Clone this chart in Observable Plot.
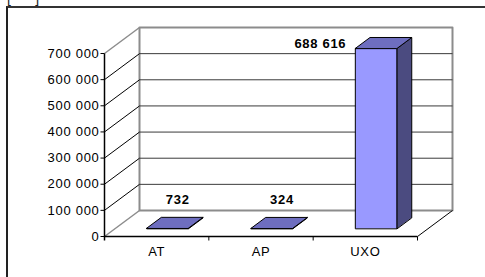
<!DOCTYPE html>
<html>
<head>
<meta charset="utf-8">
<script src="https://cdn.jsdelivr.net/npm/d3@7"></script>
<script src="https://cdn.jsdelivr.net/npm/@observablehq/plot@0.6"></script>
<style>
  html, body { margin: 0; padding: 0; background: #fff; overflow: hidden; }
  #wrap { position: relative; width: 485px; height: 277px; }
  #border { position: absolute; left: 6px; top: 6px; width: 600px; height: 400px;
            border-left: 2px solid #222; border-top: 2px solid #333; }
  #clipped { position: absolute; left: 7px; top: -10px; font: 14px "Liberation Sans", Arial, sans-serif; letter-spacing: 3px; color: #222; }
  #chart { position: absolute; left: 0; top: 0; }
  #chart text { letter-spacing: 0.7px; }
</style>
</head>
<body>
<div id="wrap">
  <div id="clipped">[ - ]</div>
  <div id="border"></div>
  <div id="chart"></div>
</div>
<script>
// ---- data ----
const categories = ["AT", "AP", "UXO"];
const values = [732, 324, 688616];
const yTicks = [0, 100000, 200000, 300000, 400000, 500000, 600000, 700000];
const yTickLabels = ["0", "100 000", "200 000", "300 000", "400 000", "500 000", "600 000", "700 000"];
const valueLabels = ["732", "324", "688 616"];

// ---- layout ----
const W = 485, H = 277;
const xRange = [104, 417], yRange = [236, 53];
const yMax = 700000;
const pxX = (xRange[1] - xRange[0]) / categories.length; // px per x unit
const pxY = (yRange[0] - yRange[1]) / yMax;               // px per y unit
const depthPx = [35, -26];
const ddx = depthPx[0] / pxX, ddy = -depthPx[1] / pxY;    // depth vector in data units
const f0 = 0.31, f1 = 0.73, half = 0.2;                   // bar depth positions and half width

const n = categories.length;
const D = (x, y, f) => [x + f * ddx, y + f * ddy];

// walls / floor segments
const grid = yTicks.slice(1, -1).map(t => ({x1: D(0, t, 1)[0], y1: D(0, t, 1)[1], x2: D(n, t, 1)[0], y2: D(n, t, 1)[1]}));
const sideDiag = yTicks.slice(1, -1).map(t => ({x1: 0, y1: t, x2: D(0, t, 1)[0], y2: D(0, t, 1)[1]}));
const wallPoly = [D(0, 0, 1), D(0, yMax, 1), D(n, yMax, 1), D(n, 0, 1)].map(([x, y]) => ({x, y}));
const grayDiag = [0, yMax].map(t => ({x1: 0, y1: t, x2: D(0, t, 1)[0], y2: D(0, t, 1)[1]}));
const floorRight = [{x1: n, y1: 0, x2: D(n, 0, 1)[0], y2: D(n, 0, 1)[1]}];

// bar faces
const faces = [];
values.forEach((v, i) => {
  const xl = i + 0.5 - half, xr = i + 0.5 + half;
  const front = [D(xl, 0, f0), D(xl, v, f0), D(xr, v, f0), D(xr, 0, f0)];
  const side = [D(xr, 0, f0), D(xr, v, f0), D(xr, v, f1), D(xr, 0, f1)];
  const top = [D(xl, v, f0), D(xl, v, f1), D(xr, v, f1), D(xr, v, f0)];
  [["front", front], ["side", side], ["top", top]].forEach(([k, pts]) =>
    pts.forEach(([x, y]) => faces.push({id: i + k, kind: k, x, y})));
});
const faceColor = {front: "#9999ff", side: "#4b4b80", top: "#6e6ebf"};

const labelData = values.map((v, i) => ({i, v, label: valueLabels[i]}));
const tall = d => d.v > 0.8 * yMax;
const tickLenX = 4 / pxX, tickLenY = 4 / pxY;

const font = "'Liberation Sans', Arial, sans-serif";

const chart = Plot.plot({
  width: W, height: H,
  margin: 0,
  style: {fontFamily: font, background: "transparent", overflow: "visible"},
  x: {type: "linear", domain: [0, n], range: xRange, axis: null},
  y: {type: "linear", domain: [0, yMax], range: yRange, axis: null},
  marks: [
    // back wall
    Plot.line(wallPoly, {x: "x", y: "y", curve: "linear-closed", fill: "white", stroke: "#8c8c8c", strokeWidth: 2}),
    Plot.link(grid, {x1: "x1", y1: "y1", x2: "x2", y2: "y2", stroke: "#3a3a3a", strokeWidth: 1}),
    // side wall diagonals
    Plot.link(sideDiag, {x1: "x1", y1: "y1", x2: "x2", y2: "y2", stroke: "#000", strokeWidth: 1}),
    Plot.link(grayDiag, {x1: "x1", y1: "y1", x2: "x2", y2: "y2", stroke: "#8c8c8c", strokeWidth: 1.5}),
    // floor
    Plot.link(floorRight, {x1: "x1", y1: "y1", x2: "x2", y2: "y2", stroke: "#000", strokeWidth: 1}),
    Plot.link([{x1: 0, x2: n}], {x1: "x1", x2: "x2", y1: () => 0, y2: () => 0, stroke: "#000", strokeWidth: 1.5}),
    // x ticks
    Plot.link(d3.range(1, n + 1), {x1: d => d, x2: d => d, y1: () => 0, y2: () => -tickLenY, stroke: "#000"}),
    // y axis
    Plot.link([0], {x1: () => 0, x2: () => 0, y1: () => -tickLenY, y2: () => yMax, stroke: "#000", strokeWidth: 1.5}),
    Plot.link(yTicks, {x1: () => -tickLenX, x2: () => 0, y1: d => d, y2: d => d, stroke: "#000"}),
    Plot.text(yTicks, {x: () => 0, y: d => d, text: (d, i) => yTickLabels[i], textAnchor: "end", dx: -5, fontSize: 13, fill: "#000"}),
    // category labels
    Plot.text(categories, {x: (d, i) => i + 0.5, y: () => 0, text: d => d, dy: 15, fontSize: 13, fill: "#000"}),
    // bars
    Plot.line(faces, {x: "x", y: "y", z: "id", curve: "linear-closed", fill: d => faceColor[d.kind], stroke: "#000", strokeWidth: 1, strokeLinejoin: "round"}),
    // value labels
    Plot.text(labelData.filter(d => !tall(d)), {x: d => d.i + 0.5 + 0.6 * ddx, y: d => d.v + 0.6 * ddy, text: "label", dy: -21, fontSize: 13, fontWeight: "bold", fill: "#000"}),
    Plot.text(labelData.filter(tall), {x: d => d.i + 0.5 - half + f0 * ddx, y: d => d.v + 0.5 * ddy, text: "label", dx: -9, textAnchor: "end", fontSize: 13, fontWeight: "bold", fill: "#000"})
  ]
});
document.getElementById("chart").appendChild(chart);
</script>
</body>
</html>
